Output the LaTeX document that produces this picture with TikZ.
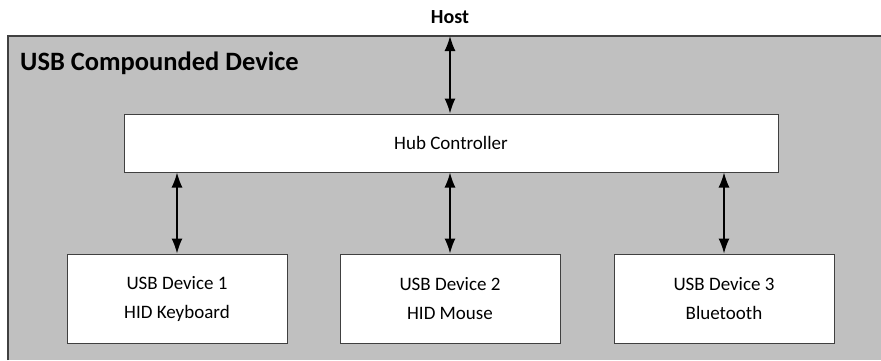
\documentclass[tikz,border=0pt]{standalone}
\usepackage{fontspec}
\setmainfont{Carlito}
\usetikzlibrary{arrows.meta}
\definecolor{shell}{RGB}{192,192,192}
\definecolor{edge}{RGB}{64,64,64}
\begin{document}
\begin{tikzpicture}[x=1pt, y=1pt]
	    \tikzset{>={Latex[length=15pt,width=11pt]}, link/.style={<->, line width=1.4pt},
	      unit/.style={draw=edge, line width=1pt, fill=white, align=center, inner sep=0pt, font=\fontsize{19}{29}\selectfont}}
	    \useasboundingbox (0,0) rectangle (881,360);
	    \fill[shell] (8,0) rectangle (881,324);
	    \draw[edge, line width=1.4pt] (8,0) -- (8,324) -- (881,324);
	    \coordinate (T) at (450,324);
	    \node (host) at (450,343) {\fontsize{20}{24}\selectfont\bfseries Host};
	    \node[anchor=west, inner sep=0pt] (title) at (20,297) {\fontsize{26.5}{30}\selectfont\bfseries USB Compounded Device};
	    \node[unit, minimum width=654pt, minimum height=58pt] (hub) at (451,217) {Hub Controller};
	    \node[unit, minimum width=220pt, minimum height=89pt] (dev1) at (177,61.5) {USB Device 1\\HID Keyboard};
	    \node[unit, minimum width=220pt, minimum height=89pt] (dev2) at (450,61.5) {USB Device 2\\HID Mouse};
	    \node[unit, minimum width=220pt, minimum height=89pt] (dev3) at (724,61.5) {USB Device 3\\Bluetooth};
	    \draw [link] (T) -- (hub.north -| T);
	    \draw [link] (hub.south -| dev1.north) -- (dev1.north);
	    \draw [link] (hub.south -| dev2.north) -- (dev2.north);
	    \draw [link] (hub.south -| dev3.north) -- (dev3.north);
	\end{tikzpicture}
\end{document}
